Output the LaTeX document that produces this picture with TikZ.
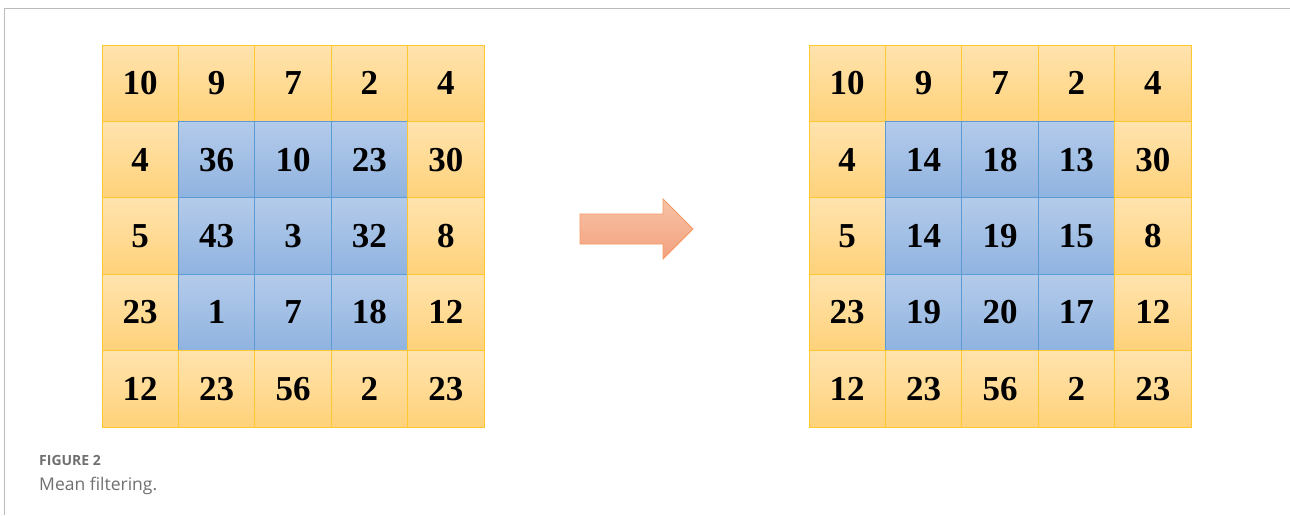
\documentclass[tikz,border=0pt]{standalone}
\usepackage{fontspec}
\setmainfont{Liberation Serif}
\newfontfamily\capfont{Open Sans}
\definecolor{otop}{HTML}{FFE3AE}
\definecolor{obot}{HTML}{FFD27A}
\definecolor{oline}{HTML}{FFC830}
\definecolor{btop}{HTML}{B4CBEA}
\definecolor{bbot}{HTML}{8FB3E0}
\definecolor{bline}{HTML}{5B9BD5}
\definecolor{atop}{HTML}{F8C2A6}
\definecolor{abot}{HTML}{F3A27F}
\definecolor{aline}{HTML}{F39A62}
\definecolor{frame}{HTML}{BBBBBB}
\definecolor{capgrey}{HTML}{707070}
\tikzset{
  ocell/.style={draw=oline, line width=0.8pt, top color=otop, bottom color=obot, minimum size=76.4pt, inner sep=0pt, font=\fontsize{35}{35}\selectfont\bfseries},
  bcell/.style={draw=bline, line width=0.8pt, top color=btop, bottom color=bbot, minimum size=76.4pt, inner sep=0pt, font=\fontsize{35}{35}\selectfont\bfseries},
}
\begin{document}
\begin{tikzpicture}[x=1pt,y=-1pt]
\useasboundingbox (0,0) rectangle (1290,515);
\fill[white] (0,0) rectangle (1290,515);
\draw[frame, line width=1.5pt] (4.5,515) -- (4.5,8.5) -- (1290,8.5);
% left grid
\foreach \row [count=\r from 0] in {{10,9,7,2,4},{4,36,10,23,30},{5,43,3,32,8},{23,1,7,18,12},{12,23,56,2,23}}{
  \foreach \v [count=\c from 0] in \row {
    \pgfmathtruncatemacro{\inner}{(\r>0)&&(\r<4)&&(\c>0)&&(\c<4)}
    \ifnum\inner=1
      \node[bcell] (L-\r-\c) at ({102+38.2+76.4*\c},{45+38.2+76.4*\r}) {\v};
    \else
      \node[ocell] (L-\r-\c) at ({102+38.2+76.4*\c},{45+38.2+76.4*\r}) {\v};
    \fi
  }
}
% right grid
\foreach \row [count=\r from 0] in {{10,9,7,2,4},{4,14,18,13,30},{5,14,19,15,8},{23,19,20,17,12},{12,23,56,2,23}}{
  \foreach \v [count=\c from 0] in \row {
    \pgfmathtruncatemacro{\inner}{(\r>0)&&(\r<4)&&(\c>0)&&(\c<4)}
    \ifnum\inner=1
      \node[bcell] (R-\r-\c) at ({809+38.2+76.4*\c},{45+38.2+76.4*\r}) {\v};
    \else
      \node[ocell] (R-\r-\c) at ({809+38.2+76.4*\c},{45+38.2+76.4*\r}) {\v};
    \fi
  }
}
% arrow
\draw[aline, line width=0.8pt, top color=atop, bottom color=abot]
  (580,214) -- (663,214) -- (663,199) -- (693,229) -- (663,259) -- (663,244) -- (580,244) -- cycle;
% caption
\node[anchor=base west, inner sep=0pt, text=capgrey, font=\capfont\fontsize{14}{14}\selectfont\bfseries] (figlabel) at (39,465) {FIGURE 2};
\node[anchor=base west, inner sep=0pt, text=capgrey, font=\capfont\fontsize{17.5}{17.5}\selectfont] (figcap) at (39,490) {Mean filtering.};
\end{tikzpicture}
\end{document}
